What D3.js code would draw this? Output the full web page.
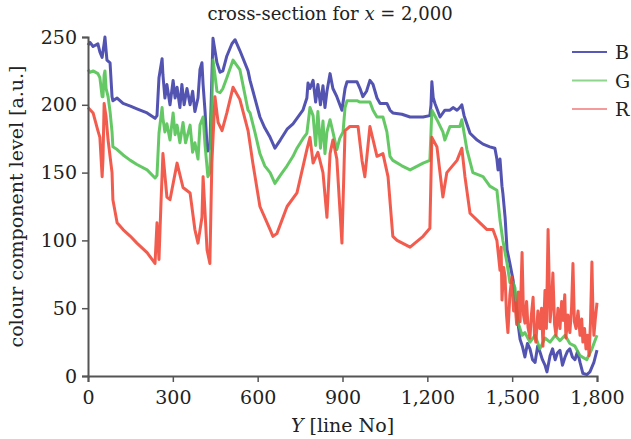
<!DOCTYPE html>
<html>
<head>
<meta charset="utf-8">
<script src="https://cdn.jsdelivr.net/npm/d3@7/dist/d3.min.js"></script>
<style>
  body { margin: 0; background: #fff; }
  text { font-family: "DejaVu Serif", serif; fill: #222; }
</style>
</head>
<body>
<svg id="chart"></svg>
<script>
// Size of the picture
const width = 631;
const height = 439;
const margin = { top: 37, right: 34, bottom: 63, left: 88 };

// Data: [Y line, level]
const seriesNames = ["B", "G", "R"];
const xTicks = [0, 300, 600, 900, 1200, 1500, 1800];
const yTicks = [0, 50, 100, 150, 200, 250];

const blue = [[0,244],[7,246],[18,243],[35,245],[42,239],[50,235],[57,245],[60,250],[64,240],[67,233],[78,231],[85,206],[88,203],[103,205],[124,201],[150,199],[173,197],[209,194],[237,190],[244,192],[251,220],[262,234],[265,222],[272,205],[279,215],[290,200],[301,218],[308,205],[315,213],[325,198],[332,215],[340,200],[350,212],[361,200],[370,210],[378,195],[389,205],[396,226],[403,231],[407,215],[414,195],[421,170],[424,166],[431,168],[438,220],[442,249],[449,240],[456,231],[467,224],[477,225],[491,236],[509,245],[520,248],[537,240],[566,225],[573,218],[590,205],[608,191],[625,183],[644,176],[661,168],[680,174],[704,182],[725,186],[739,190],[760,196],[774,205],[778,216],[785,212],[796,218],[805,202],[813,215],[822,200],[831,214],[838,198],[845,210],[856,223],[866,212],[880,206],[898,196],[909,212],[916,217],[926,217],[951,217],[962,212],[972,206],[985,210],[997,218],[1008,215],[1022,205],[1033,201],[1057,201],[1068,196],[1078,194],[1110,193],[1139,191],[1185,191],[1209,192],[1213,200],[1216,217],[1221,205],[1227,201],[1245,191],[1262,196],[1280,196],[1291,198],[1305,196],[1315,198],[1322,200],[1330,192],[1351,179],[1376,174],[1397,171],[1421,169],[1439,168],[1446,160],[1450,152],[1457,160],[1464,140],[1467,135],[1475,117],[1482,93],[1492,83],[1503,71],[1510,60],[1520,40],[1528,27],[1536,22],[1545,14],[1554,24],[1563,20],[1572,12],[1581,10],[1590,22],[1598,18],[1607,12],[1616,8],[1623,3],[1634,15],[1643,20],[1652,12],[1660,17],[1669,19],[1678,8],[1687,14],[1695,18],[1704,20],[1713,14],[1722,12],[1731,18],[1740,10],[1750,2],[1764,1],[1775,3],[1789,10],[1800,19]];

const green = [[0,226],[7,224],[18,225],[35,223],[42,220],[50,206],[53,206],[57,222],[60,225],[64,212],[71,206],[78,195],[85,180],[88,169],[103,167],[124,163],[150,159],[173,156],[209,152],[237,146],[244,148],[251,179],[262,198],[265,190],[272,180],[279,186],[290,174],[301,194],[308,178],[315,185],[325,172],[336,187],[345,172],[361,185],[370,165],[378,172],[389,160],[396,185],[407,191],[414,170],[424,147],[431,150],[438,200],[442,233],[449,222],[456,210],[467,209],[477,212],[491,220],[513,233],[537,226],[566,196],[573,194],[590,180],[608,164],[625,155],[644,150],[661,142],[680,148],[704,155],[725,162],[739,168],[760,175],[774,179],[785,198],[796,192],[805,170],[813,195],[822,168],[831,188],[838,164],[845,180],[856,189],[866,180],[880,167],[890,175],[902,180],[909,198],[916,203],[951,203],[962,202],[997,202],[1008,196],[1022,191],[1043,191],[1057,180],[1068,162],[1078,159],[1110,155],[1139,152],[1185,157],[1209,159],[1216,196],[1234,189],[1255,180],[1262,174],[1280,184],[1291,184],[1315,184],[1322,189],[1340,167],[1361,150],[1397,147],[1421,140],[1446,137],[1457,115],[1467,100],[1482,83],[1492,69],[1503,69],[1510,65],[1520,40],[1535,30],[1545,32],[1563,25],[1581,30],[1598,20],[1616,28],[1634,25],[1652,30],[1669,26],[1687,30],[1704,24],[1722,22],[1740,15],[1764,12],[1782,20],[1800,30]];

const red = [[0,198],[18,194],[35,181],[42,176],[50,147],[53,160],[57,201],[64,191],[71,174],[85,150],[88,130],[103,113],[124,108],[150,103],[173,98],[209,91],[237,83],[244,113],[251,86],[258,127],[265,164],[279,132],[290,130],[315,157],[336,139],[361,135],[378,108],[389,98],[403,117],[407,147],[421,93],[431,83],[438,157],[449,206],[460,187],[474,181],[491,194],[513,213],[537,204],[566,181],[583,157],[608,125],[644,108],[654,103],[668,105],[704,125],[739,135],[774,167],[785,176],[796,157],[813,165],[831,150],[845,117],[856,164],[866,174],[880,160],[898,98],[909,181],[926,184],[955,184],[969,159],[979,147],[997,184],[1022,162],[1043,164],[1061,147],[1078,103],[1093,100],[1139,95],[1185,103],[1209,109],[1216,176],[1234,169],[1255,132],[1269,150],[1305,159],[1322,168],[1333,147],[1351,120],[1376,115],[1411,108],[1432,108],[1446,100],[1452,88],[1457,78],[1461,95],[1464,56],[1470,80],[1475,73],[1480,45],[1485,32],[1492,60],[1499,73],[1505,48],[1510,54],[1516,38],[1522,62],[1528,40],[1535,91],[1540,45],[1545,39],[1551,55],[1556,36],[1563,28],[1568,45],[1574,58],[1579,30],[1584,25],[1591,48],[1598,35],[1604,50],[1609,22],[1616,63],[1621,35],[1627,108],[1634,40],[1639,52],[1644,76],[1650,38],[1655,30],[1662,50],[1669,35],[1675,55],[1680,41],[1686,60],[1690,28],[1697,45],[1704,32],[1710,50],[1715,83],[1720,40],[1726,35],[1733,48],[1740,30],[1746,42],[1750,25],[1756,35],[1761,20],[1767,30],[1772,15],[1777,40],[1782,84],[1786,45],[1789,30],[1794,42],[1800,54]];

const lineColors = ["#3b3ba6", "#4fc24f", "#f04535"];
const legendColors = ["#5858b8", "#8ed68e", "#f49a9a"];

const svg = d3.select("#chart").attr("width", width).attr("height", height);

// Scales
const xScale = d3.scaleLinear().domain([0, 1800]).range([margin.left, width - margin.right]);
const yScale = d3.scaleLinear().domain([0, 250]).range([height - margin.bottom, margin.top]);

// Lines, B first so R ends up on top
const line = d3.line().x((d) => xScale(d[0])).y((d) => yScale(d[1]));

[blue, green, red].forEach((s, i) => {
  svg.append("path")
    .datum(s)
    .attr("fill", "none")
    .attr("stroke", lineColors[i])
    .attr("stroke-width", 3)
    .attr("stroke-opacity", 0.88)
    .attr("stroke-linejoin", "round")
    .attr("d", line);
});

// Axes
const xAxis = d3.axisBottom(xScale).tickValues(xTicks).tickSize(6).tickPadding(9)
  .tickFormat(d3.format(","));
const yAxis = d3.axisLeft(yScale).tickValues(yTicks).tickSize(6).tickPadding(5);

const gx = svg.append("g")
  .attr("transform", "translate(0," + (height - margin.bottom) + ")")
  .call(xAxis);
const gy = svg.append("g")
  .attr("transform", "translate(" + margin.left + ",0)")
  .call(yAxis);

[gx, gy].forEach((g) => {
  g.select(".domain").attr("stroke", "#555").attr("stroke-width", 2);
  g.selectAll(".tick line").attr("stroke", "#555").attr("stroke-width", 1.5);
  g.selectAll(".tick text").attr("font-size", 19).attr("font-family", "DejaVu Serif").attr("fill", "#222");
});

// Title
svg.append("text")
  .attr("x", 330)
  .attr("y", 20)
  .attr("text-anchor", "middle")
  .attr("font-size", 18)
  .html('cross-section for <tspan font-style="italic">x</tspan> = 2,000');

// Axis labels
svg.append("text")
  .attr("x", (margin.left + width - margin.right) / 2)
  .attr("y", 432)
  .attr("text-anchor", "middle")
  .attr("font-size", 19)
  .html('<tspan font-style="italic">Y</tspan> [line No]');

svg.append("text")
  .attr("transform", "translate(23," + (margin.top + (height - margin.bottom - margin.top) / 2) + ") rotate(-90)")
  .attr("text-anchor", "middle")
  .attr("font-size", 19)
  .text("colour component level [a.u.]");

// Legend
const legendItems = svg.selectAll(".legend")
  .data(seriesNames)
  .enter()
  .append("g")
  .attr("transform", (d, i) => "translate(572," + (52 + i * 28.5) + ")");

legendItems.append("line")
  .attr("x1", 0).attr("x2", 35)
  .attr("stroke", (d, i) => legendColors[i])
  .attr("stroke-width", 2.2);

legendItems.append("text")
  .attr("x", 43)
  .attr("y", 7)
  .attr("font-size", 19)
  .text((d) => d);
</script>
</body>
</html>
